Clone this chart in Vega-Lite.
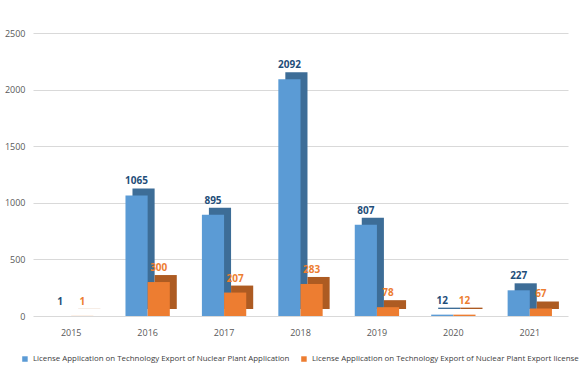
{
  "$schema": "https://vega.github.io/schema/vega-lite/v6.json",
  "width": 535,
  "height": 283,
  "autosize": {"type": "none"},
  "padding": {"left": 33, "top": 33, "right": 17, "bottom": 58},
  "background": "white",
  "config": {
    "view": {"stroke": null},
    "font": "Open Sans",
    "axis": {"labelFont": "Open Sans", "labelColor": "#595959", "labelFontSize": 9},
    "legend": {"labelFont": "Open Sans"}
  },
  "data": {
    "values": [
      {"year": "2015", "series": "License  Application on Technology Export of Nuclear Plant Application", "value": 1},
      {"year": "2015", "series": "License  Application on Technology Export of Nuclear Plant Export license", "value": 1},
      {"year": "2016", "series": "License  Application on Technology Export of Nuclear Plant Application", "value": 1065},
      {"year": "2016", "series": "License  Application on Technology Export of Nuclear Plant Export license", "value": 300},
      {"year": "2017", "series": "License  Application on Technology Export of Nuclear Plant Application", "value": 895},
      {"year": "2017", "series": "License  Application on Technology Export of Nuclear Plant Export license", "value": 207},
      {"year": "2018", "series": "License  Application on Technology Export of Nuclear Plant Application", "value": 2092},
      {"year": "2018", "series": "License  Application on Technology Export of Nuclear Plant Export license", "value": 283},
      {"year": "2019", "series": "License  Application on Technology Export of Nuclear Plant Application", "value": 807},
      {"year": "2019", "series": "License  Application on Technology Export of Nuclear Plant Export license", "value": 78},
      {"year": "2020", "series": "License  Application on Technology Export of Nuclear Plant Application", "value": 12},
      {"year": "2020", "series": "License  Application on Technology Export of Nuclear Plant Export license", "value": 12},
      {"year": "2021", "series": "License  Application on Technology Export of Nuclear Plant Application", "value": 227},
      {"year": "2021", "series": "License  Application on Technology Export of Nuclear Plant Export license", "value": 67}
    ]
  },
  "encoding": {
    "x": {"field": "year", "type": "nominal", "scale": {"paddingInner": 0.42, "paddingOuter": 0.21},
      "axis": {"title": null, "labelAngle": 0, "domain": false, "ticks": false, "labelPadding": 12, "grid": false}},
    "y": {"field": "value", "type": "quantitative", "scale": {"domain": [0, 2500]},
      "axis": {"title": null, "values": [0, 500, 1000, 1500, 2000, 2500], "format": "d", "domain": false, "ticks": false, "labelPadding": 8, "gridColor": "#d9d9d9", "gridWidth": 1}}
  },
  "layer": [
    {
      "mark": {"type": "bar", "yOffset": -7},
      "encoding": {
        "xOffset": {"field": "series", "type": "nominal", "scale": {"paddingInner": 0, "range": [7, 51.3]}},
        "color": {"field": "series", "type": "nominal", "legend": null,
          "scale": {"range": ["#3d6d97", "#ad5b22"]}}
      }
    },
    {
      "mark": {"type": "bar"},
      "encoding": {
        "xOffset": {"field": "series", "type": "nominal", "scale": {"paddingInner": 0}},
        "color": {"field": "series", "type": "nominal",
          "scale": {"range": ["#5b9bd5", "#ed7d31"]},
          "legend": {"title": null, "orient": "none", "legendX": -12, "legendY": 322, "direction": "horizontal", "symbolType": "square", "symbolSize": 30,
            "labelFontSize": 7.9, "labelColor": "#404040", "labelLimit": 400, "columnPadding": 8, "labelOffset": 4}
        }
      }
    },
    {
      "mark": {"type": "text", "dy": -14, "fontSize": 10, "fontWeight": "bold"},
      "encoding": {
        "xOffset": {"field": "series", "type": "nominal", "scale": {"paddingInner": 0}},
        "text": {"field": "value", "type": "quantitative"},
        "color": {"field": "series", "type": "nominal", "legend": null,
          "scale": {"range": ["#1f4e79", "#ed7d31"]}}
      }
    }
  ],
  "resolve": {"scale": {"color": "independent", "xOffset": "independent"}, "legend": {"color": "independent"}}
}
